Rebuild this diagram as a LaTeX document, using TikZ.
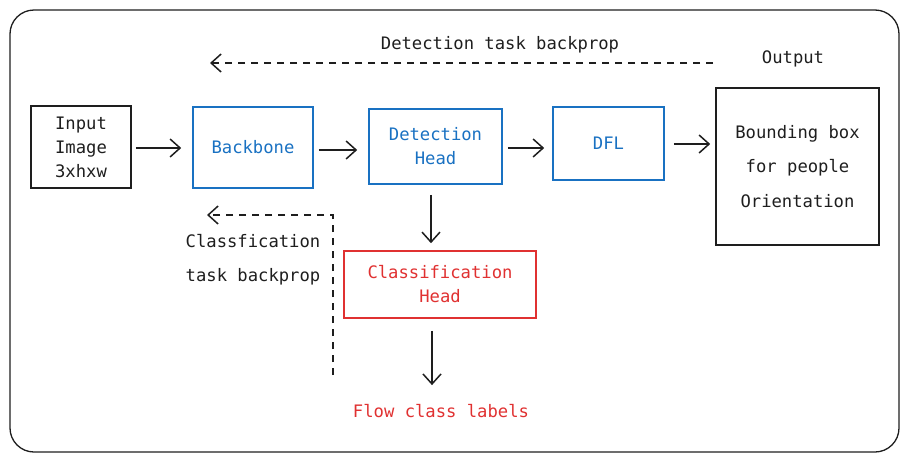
\documentclass[tikz,border=0pt]{standalone}
\usepackage{fontspec}
\setmonofont{DejaVu Sans Mono}
\usetikzlibrary{arrows.meta}
\definecolor{exblue}{HTML}{1971C2}
\definecolor{exred}{HTML}{E03131}
\definecolor{exink}{HTML}{1E1E1E}
\tikzset{
  txt/.style={font=\ttfamily\fontsize{17.2}{24}\selectfont, text=exink, align=center, inner sep=0pt},
  box/.style={draw=exink, line width=1.6pt, rectangle, inner sep=0pt, txt},
  bluebox/.style={box, draw=exblue, text=exblue},
  redbox/.style={box, draw=exred, text=exred},
  arr/.style={draw=exink, line width=1.5pt, -{Straight Barb[length=10pt,width=18pt,line width=1.5pt]}},
  darr/.style={arr, dash pattern=on 7pt off 6pt},
}
\begin{document}
\begin{tikzpicture}[x=1pt,y=-1pt]
\useasboundingbox (0,0) rectangle (903,453);
\draw[exink, line width=1.3pt, rounded corners=24pt] (10,10) rectangle (899,452);

\node[box, minimum width=100pt, minimum height=82pt] (input) at (81,147) {Input\\Image\\3xhxw};
\node[bluebox, minimum width=120pt, minimum height=81pt] (backbone) at (253,147.5) {Backbone};
\node[bluebox, minimum width=133pt, minimum height=75pt] (det) at (435.5,146.5) {Detection\\Head};
\node[bluebox, minimum width=111pt, minimum height=73pt] (dfl) at (608.5,143.5) {DFL};
\node[box, minimum width=163pt, minimum height=157pt, font=\ttfamily\fontsize{17.2}{34.5}\selectfont] (out) at (797.5,166.5) {Bounding box\\for people\\Orientation};
\node[redbox, minimum width=192pt, minimum height=67pt] (cls) at (440,284.5) {Classification\\Head};

\node[txt, text=exred] (flow) at (441,411) {Flow class labels};
\node[txt] (dettxt) at (500,45) {Detection task backprop};
\node[txt] (outtxt) at (793,59) {Output};
\node[txt, align=left, font=\ttfamily\fontsize{17.2}{34}\selectfont] (clstxt) at (253,260) {Classfication\\task backprop};

\coordinate (dtail) at (713,63);
\coordinate (dhead) at (210,63);
\coordinate (ctail) at (333,375);
\coordinate (ccorner) at (333,215);
\coordinate (chead) at (207,215);

\draw[arr] ([shift={(4,1)}]input.east) -- ([shift={(-11,1)}]backbone.west |- input.east);
\draw[arr] ([shift={(5,2.5)}]backbone.east) -- ([shift={(-11,2.5)}]det.west |- backbone.east);
\draw[arr] ([shift={(5,1.5)}]det.east) -- ([shift={(-8,1.5)}]dfl.west |- det.east);
\draw[arr] ([shift={(9,0.5)}]dfl.east) -- ([shift={(-5,0.5)}]out.west |- dfl.east);
\draw[arr] ([shift={(-4.5,10)}]det.south) -- ([shift={(-4.5,-7)}]det.south |- cls.north);
\draw[arr] ([shift={(-8,12)}]cls.south) -- ([shift={(-8,-19)}]cls.south |- flow.north);
\draw[darr] (dtail) -- (dhead);
\draw[darr] (ctail) -- (ccorner) -- (chead);
\end{tikzpicture}
\end{document}
